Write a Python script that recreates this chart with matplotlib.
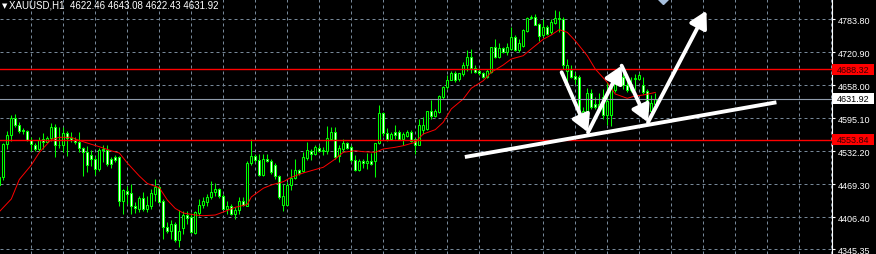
import numpy as np
import matplotlib
matplotlib.use("Agg")
import matplotlib.pyplot as plt
from matplotlib.patches import Rectangle, FancyArrowPatch

# XAUUSD H1 candles, first one is the partly hidden bar at the left edge
opens = [
    4467.9, 4483.2, 4546.0, 4563.1, 4595.4, 4582.1, 4572.6, 4570.7, 4554.5, 4544.1,
    4536.5, 4555.5, 4550.7, 4558.3, 4578.3, 4544.1, 4543.1, 4566.9, 4558.3, 4554.5,
    4548.8, 4537.4, 4530.7, 4525.0, 4517.4, 4498.4, 4536.5, 4534.6, 4516.5, 4520.3,
    4520.3, 4438.4, 4456.5, 4452.7, 4428.0, 4422.3, 4443.2, 4421.3, 4428.9, 4450.8,
    4463.2, 4437.5, 4387.1, 4379.5, 4393.7, 4362.3, 4386.1, 4410.8, 4406.1, 4376.6,
    4414.6, 4429.9, 4436.5, 4445.1, 4453.7, 4459.4, 4447.9, 4422.3, 4427.0, 4412.8,
    4419.4, 4437.5, 4428.9, 4509.8, 4522.2, 4515.5, 4486.0, 4516.5, 4513.6, 4506.0,
    4484.1, 4430.8, 4430.8, 4467.9, 4480.3, 4497.4, 4495.5, 4519.3, 4532.6, 4526.0,
    4538.4, 4531.7, 4531.7, 4556.4, 4567.9, 4522.2, 4536.5, 4547.9, 4539.3, 4515.5,
    4497.4, 4512.7, 4509.8, 4512.7, 4512.7, 4547.9, 4605.0, 4566.9, 4555.5, 4567.9,
    4567.9, 4555.5, 4562.1, 4567.9, 4555.5, 4544.1, 4571.7, 4573.6, 4607.8, 4598.3,
    4605.9, 4634.5, 4653.5, 4667.8, 4682.0, 4669.7, 4679.2, 4695.4, 4710.6, 4691.5,
    4684.9, 4681.1, 4674.4, 4683.9, 4729.6, 4710.6, 4727.7, 4720.1, 4726.8, 4750.5,
    4723.9, 4733.4, 4760.1, 4784.8, 4786.7, 4774.3, 4753.4, 4767.7, 4758.2, 4776.2,
    4784.8, 4783.8, 4685.8, 4687.7, 4675.4, 4674.4, 4597.4, 4598.3, 4643.0, 4622.1,
    4617.3, 4634.5, 4600.2, 4600.2, 4647.8, 4681.1, 4674.4, 4658.2, 4647.8, 4668.7,
    4669.7, 4658.2, 4645.9, 4609.7, 4622.46]
highs = [
    4487.0, 4547.9, 4570.7, 4601.2, 4603.1, 4587.8, 4576.4, 4572.6, 4559.3, 4547.9,
    4559.3, 4566.9, 4561.2, 4585.9, 4584.0, 4578.3, 4578.3, 4569.8, 4568.8, 4559.3,
    4568.8, 4540.3, 4542.2, 4534.6, 4523.1, 4538.4, 4544.1, 4544.1, 4521.2, 4524.1,
    4522.2, 4460.3, 4466.0, 4469.9, 4435.6, 4447.0, 4454.6, 4447.0, 4460.3, 4479.4,
    4467.9, 4441.3, 4397.5, 4400.4, 4397.5, 4419.4, 4418.5, 4418.5, 4414.6, 4418.5,
    4441.3, 4446.0, 4450.8, 4475.6, 4471.7, 4462.2, 4450.8, 4438.4, 4431.8, 4426.1,
    4445.1, 4445.1, 4512.7, 4555.5, 4526.9, 4526.9, 4526.9, 4526.9, 4517.4, 4509.8,
    4487.0, 4469.9, 4473.6, 4498.4, 4517.4, 4498.4, 4530.7, 4550.7, 4536.5, 4543.1,
    4543.1, 4539.3, 4579.3, 4577.4, 4577.4, 4543.1, 4556.4, 4550.7, 4543.1, 4524.1,
    4517.4, 4516.5, 4528.8, 4528.8, 4547.9, 4620.2, 4605.9, 4575.5, 4567.9, 4582.1,
    4571.7, 4567.9, 4571.7, 4571.7, 4558.3, 4593.5, 4596.4, 4609.7, 4630.6, 4612.6,
    4638.3, 4655.4, 4677.3, 4685.8, 4685.8, 4682.0, 4701.1, 4723.9, 4725.8, 4695.4,
    4689.6, 4683.9, 4688.7, 4731.5, 4746.7, 4739.1, 4729.6, 4739.1, 4767.7, 4753.4,
    4745.8, 4763.9, 4786.7, 4791.5, 4793.4, 4776.2, 4783.8, 4771.5, 4782.9, 4801.9,
    4800.0, 4786.7, 4707.7, 4696.3, 4683.0, 4677.3, 4616.4, 4651.6, 4650.6, 4634.5,
    4643.0, 4649.7, 4663.0, 4676.3, 4681.1, 4691.5, 4682.0, 4679.2, 4674.4, 4679.2,
    4681.1, 4674.4, 4649.7, 4638.3, 4643.08]
lows = [
    4460.3, 4477.5, 4536.5, 4551.7, 4578.3, 4566.9, 4565.0, 4551.7, 4532.6, 4532.6,
    4532.6, 4536.5, 4548.8, 4551.7, 4521.2, 4538.4, 4530.7, 4523.1, 4548.8, 4546.0,
    4530.7, 4485.1, 4492.7, 4504.1, 4487.0, 4494.6, 4511.7, 4504.1, 4500.3, 4511.7,
    4428.9, 4412.8, 4431.8, 4412.8, 4414.6, 4416.5, 4418.5, 4416.5, 4422.3, 4437.5,
    4433.7, 4365.2, 4376.6, 4365.2, 4359.5, 4349.9, 4374.7, 4393.7, 4376.6, 4374.7,
    4408.9, 4423.2, 4428.0, 4441.3, 4447.0, 4443.2, 4421.3, 4412.8, 4409.9, 4402.3,
    4412.8, 4428.9, 4427.0, 4505.1, 4510.8, 4484.1, 4484.1, 4510.8, 4488.9, 4479.4,
    4441.3, 4417.5, 4429.9, 4457.5, 4479.4, 4486.0, 4493.6, 4514.6, 4514.6, 4524.1,
    4529.8, 4525.0, 4526.9, 4555.5, 4517.4, 4510.8, 4529.8, 4536.5, 4510.8, 4494.6,
    4495.5, 4501.2, 4498.4, 4506.0, 4482.2, 4546.0, 4562.1, 4552.6, 4554.5, 4555.5,
    4554.5, 4543.1, 4560.2, 4550.7, 4526.9, 4543.1, 4565.0, 4571.7, 4593.5, 4596.4,
    4605.0, 4631.6, 4650.6, 4666.8, 4663.0, 4664.9, 4676.3, 4685.8, 4682.0, 4681.1,
    4677.3, 4672.5, 4672.5, 4682.0, 4708.7, 4708.7, 4719.1, 4715.3, 4723.9, 4722.0,
    4720.1, 4731.5, 4758.2, 4782.9, 4771.5, 4742.9, 4750.5, 4753.4, 4755.3, 4774.3,
    4758.2, 4688.7, 4650.6, 4672.5, 4660.1, 4591.6, 4578.3, 4596.4, 4612.6, 4612.6,
    4605.9, 4593.5, 4581.2, 4579.3, 4644.0, 4669.7, 4650.6, 4644.0, 4644.0, 4647.8,
    4666.8, 4641.1, 4605.9, 4605.9, 4622.43]
closes = [
    4483.2, 4546.0, 4563.1, 4595.4, 4582.1, 4569.8, 4569.8, 4554.5, 4545.0, 4536.5,
    4553.6, 4550.7, 4558.3, 4578.3, 4543.1, 4543.1, 4566.9, 4558.3, 4554.5, 4548.8,
    4537.4, 4530.7, 4505.1, 4517.4, 4498.4, 4534.6, 4533.6, 4507.9, 4507.0, 4514.6,
    4438.4, 4457.5, 4450.8, 4428.0, 4424.2, 4443.2, 4421.3, 4429.9, 4452.7, 4463.2,
    4436.5, 4388.0, 4379.5, 4393.7, 4362.3, 4379.5, 4410.8, 4405.2, 4378.5, 4415.6,
    4430.8, 4437.5, 4446.0, 4454.6, 4459.4, 4447.0, 4422.3, 4428.0, 4412.8, 4420.4,
    4437.5, 4430.8, 4509.8, 4522.2, 4514.6, 4486.0, 4517.4, 4512.7, 4493.6, 4484.1,
    4446.0, 4447.9, 4467.9, 4480.3, 4497.4, 4490.8, 4520.3, 4533.6, 4526.0, 4539.3,
    4531.7, 4533.6, 4558.3, 4567.9, 4520.3, 4537.4, 4547.9, 4538.4, 4514.6, 4497.4,
    4512.7, 4509.8, 4512.7, 4507.9, 4547.9, 4605.0, 4566.9, 4555.5, 4565.0, 4563.1,
    4555.5, 4565.0, 4567.9, 4552.6, 4544.1, 4582.1, 4582.1, 4607.8, 4598.3, 4607.8,
    4636.4, 4653.5, 4667.8, 4682.0, 4666.8, 4681.1, 4696.3, 4710.6, 4691.5, 4683.9,
    4682.0, 4674.4, 4685.8, 4729.6, 4710.6, 4727.7, 4720.1, 4729.6, 4750.5, 4723.9,
    4738.2, 4762.0, 4784.8, 4786.7, 4772.4, 4752.4, 4767.7, 4755.3, 4777.2, 4784.8,
    4782.9, 4695.4, 4696.3, 4674.4, 4669.7, 4593.5, 4608.8, 4643.0, 4617.3, 4617.3,
    4622.1, 4600.2, 4628.7, 4655.4, 4677.3, 4670.6, 4657.3, 4647.8, 4660.1, 4672.5,
    4677.3, 4644.0, 4609.7, 4624.0, 4631.92]

# red moving average, read at a number of bars
ma_idx = [-1, 2, 4, 7, 9, 12, 14, 17, 19, 22, 24, 27, 29, 31, 34, 36, 39, 41, 43, 45,
          48, 50, 53, 56, 58, 61, 62, 65, 67, 70, 72, 75, 77, 80, 83, 85, 88, 90, 93, 95,
          98, 100, 103, 105, 108, 110, 112, 115, 117, 120, 122, 125, 127, 130, 132, 135,
          137, 139, 141, 143, 146, 148, 151, 153, 156, 158, 160, 163]
ma_val = [4417.1, 4441.3, 4478.4, 4506.0, 4529.8, 4554.5, 4558.7, 4558.7, 4552.6, 4545.4,
          4540.8, 4533.0, 4528.8, 4509.8, 4485.1, 4470.8, 4462.8, 4439.4, 4423.2, 4414.6,
          4410.8, 4409.5, 4410.8, 4419.4, 4425.5, 4430.8, 4445.1, 4461.7, 4467.9, 4474.2,
          4482.6, 4490.8, 4495.2, 4501.6, 4517.4, 4530.2, 4533.2, 4531.3, 4530.2, 4536.5,
          4539.7, 4542.7, 4549.2, 4565.0, 4573.2, 4587.3, 4612.6, 4631.6, 4652.0, 4666.4,
          4682.4, 4696.3, 4707.7, 4714.0, 4726.8, 4745.2, 4753.4, 4763.5, 4758.5, 4742.5,
          4714.0, 4688.7, 4663.4, 4641.1, 4632.9, 4637.3, 4639.2, 4644.0]

price_levels = [4783.80, 4720.90, 4658.00, 4595.10, 4532.20, 4469.30, 4406.40, 4345.35]
red_levels = [4688.32, 4553.84]
bid = 4631.92

# hand drawn objects (bar index, price)
trend_x = [115.4, 193.3]
trend_y = [4521.2, 4625.3]
w_x = [139.6, 146.2, 154.6, 161.2, 175.8]
w_y = [4682.4, 4568.2, 4695.0, 4587.3, 4799.6]

plt.rcParams['font.family'] = ['Liberation Sans', 'DejaVu Sans']

W, H = 876, 255
fig = plt.figure(figsize=(W / 100, H / 100), dpi=100, facecolor='black')
ax = fig.add_axes([0, 0, 832 / W, 1])
ax.set_facecolor('black')
ymin, ymax = 4336.6, 4821.9
ax.set_xlim(-0.83, 207.2)
ax.set_ylim(ymin, ymax)
unit = (ymax - ymin) / H  # price per pixel

#grid
ax.set_xticks(np.arange(7, 208, 8))
ax.set_yticks(price_levels)
ax.set_yticklabels(['%.2f' % p for p in price_levels])
ax.grid(True, color='#778899', linestyle=(0, (3, 3)), lw=0.72)
ax.set_axisbelow(True)
ax.tick_params(axis='x', length=0, labelbottom=False)
ax.yaxis.tick_right()
ax.tick_params(axis='y', length=2.5, width=0.8, color='white', labelcolor='white',
               labelsize=6.5, pad=1.5)
for s in ['left', 'top', 'bottom']:
    ax.spines[s].set_visible(False)
ax.spines['right'].set_color('white')
ax.spines['right'].set_linewidth(0.8)

#candles
x = np.arange(len(closes)) - 1
o = np.array(opens)
c = np.array(closes)
hi = np.maximum(np.array(highs), np.maximum(o, c))
lo = np.minimum(np.array(lows), np.minimum(o, c))
green = '#00ff00'
ax.vlines(x, lo, hi, color=green, lw=0.75, zorder=3)
bull = c >= o
body_lo = np.minimum(o, c)
body_h = np.maximum(np.abs(c - o), 0.5)
ax.bar(x[bull], body_h[bull], bottom=body_lo[bull], width=0.5, color='black',
       edgecolor=green, linewidth=0.75, zorder=4)
ax.bar(x[~bull], body_h[~bull], bottom=body_lo[~bull], width=0.5, color='white',
       edgecolor=green, linewidth=0.75, zorder=4)

#lines
ax.plot(ma_idx, ma_val, color='#ff0000', lw=0.7, zorder=5)
for p in red_levels:
    ax.axhline(p, color='#ff0000', lw=1.0, zorder=5)
ax.axhline(bid, color='#8f9bab', lw=0.8, zorder=5)

#price boxes on the scale
for p, fc, tc in [(red_levels[0], '#ff0000', '#3a0000'), (bid, 'white', 'black'),
                  (red_levels[1], '#ff0000', '#3a0000')]:
    ax.add_patch(Rectangle((1.0, p - 5.5 * unit), 42 / 832, 11 * unit,
                           transform=ax.get_yaxis_transform(), clip_on=False,
                           fc=fc, ec='none', zorder=6))
    ax.text(1.0 + 5 / 832, p, '%.2f' % p, transform=ax.get_yaxis_transform(),
            ha='left', va='center', color=tc, fontsize=6.5, clip_on=False, zorder=7)

#drawn objects
ax.plot(trend_x, trend_y, color='white', lw=2.8, solid_capstyle='butt', zorder=8)
for i in range(len(w_x) - 1):
    ax.add_patch(FancyArrowPatch((w_x[i], w_y[i]), (w_x[i + 1], w_y[i + 1]),
                                 arrowstyle='-|>,head_length=0.5,head_width=0.28',
                                 mutation_scale=20, color='white', lw=2.8,
                                 shrinkA=0, shrinkB=0, zorder=8))

ax.plot(164.9, ymax + 1.5 * unit, marker='D', ms=6, color='#a6bfdc', zorder=9)

#header
fig.text(2 / W, 1 - 6 / H, '\u25bc', color='white', fontsize=5, family='DejaVu Sans',
         va='center', ha='left')
fig.text(9 / W, 1 - 6 / H,
         'XAUUSD,H1  %.2f %.2f %.2f %.2f' % (opens[-1], highs[-1], lows[-1], closes[-1]),
         color='white', fontsize=7, va='center', ha='left')

fig.savefig('out.png', dpi=100, facecolor='black')
